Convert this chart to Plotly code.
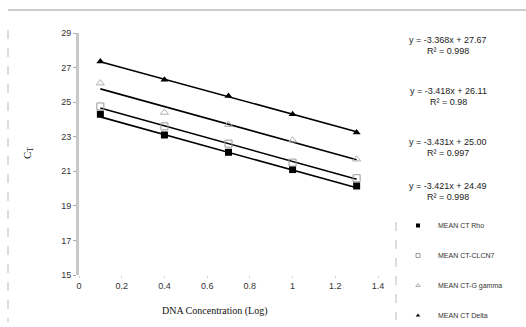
import plotly.graph_objects as go

# ---- data ----
x_vals = [0.1, 0.4, 0.7, 1.0, 1.3]
rho = [24.3, 23.1, 22.1, 21.1, 20.15]
clcn7 = [24.75, 23.6, 22.6, 21.5, 20.6]
ggamma = [26.1, 24.4, 23.7, 22.8, 21.7]
delta = [27.35, 26.3, 25.35, 24.3, 23.25]

series_names = ["MEAN CT Rho", "MEAN CT-CLCN7", "MEAN CT-G gamma", "MEAN CT Delta"]
slopes = [-3.421, -3.431, -3.418, -3.368]
intercepts = [24.49, 25.00, 26.11, 27.67]
r2_vals = ["0.998", "0.997", "0.98", "0.998"]
x_ticks = [0, 0.2, 0.4, 0.6, 0.8, 1, 1.2, 1.4]
x_tick_labels = ["0", "0.2", "0.4", "0.6", "0.8", "1", "1.2", "1.4"]
y_ticks = [15, 17, 19, 21, 23, 25, 27, 29]

# ---- layout geometry (pixels) ----
W, H = 526, 327
L, R, T, B = 79, 378, 33, 275
pw, ph = R - L, B - T


def px(xp):
    return (xp - L) / pw


def py(yp):
    return (B - yp) / ph


fig = go.Figure()

styles = [
    dict(symbol="square", color="black", line=dict(color="black", width=0)),
    dict(symbol="square-open", color="#9a9a9a", line=dict(color="#9a9a9a", width=1)),
    dict(symbol="triangle-up-open", color="#b0b0b0", line=dict(color="#b0b0b0", width=1)),
    dict(symbol="triangle-up", color="black", line=dict(color="black", width=0)),
]
data_series = [rho, clcn7, ggamma, delta]

# trend lines
for s, b in zip(slopes, intercepts):
    xs = [x_vals[0], x_vals[-1]]
    fig.add_trace(go.Scatter(x=xs, y=[s * v + b for v in xs], mode="lines",
                             line=dict(color="black", width=1.6), showlegend=False,
                             hoverinfo="skip"))

for i, (name, ys, st) in enumerate(zip(series_names, data_series, styles)):
    fig.add_trace(go.Scatter(x=x_vals, y=ys, mode="markers", name=name,
                             marker=dict(size=7, **st), legendgroup=f"g{i}",
                             showlegend=False))
    # legend entry with smaller symbol
    fig.add_trace(go.Scatter(x=[None], y=[None], mode="markers", name=name,
                             marker=dict(size=4, **st), legendgroup=f"g{i}",
                             showlegend=True))

# equations
eq_y = [186, 142, 91, 40]
for s, b, r2, yy in zip(slopes, intercepts, r2_vals, eq_y):
    sign = "-" if s < 0 else ""
    fig.add_annotation(xref="paper", yref="paper", x=px(448), y=py(yy),
                       xanchor="center", yanchor="middle",
                       text=f"y = {sign}{abs(s):.3f}x + {b:.2f}", showarrow=False,
                       font=dict(family="Liberation Sans", size=9, color="#222"))
    fig.add_annotation(xref="paper", yref="paper", x=px(448), y=py(yy + 11),
                       xanchor="center", yanchor="middle",
                       text=f"R² = {r2}", showarrow=False,
                       font=dict(family="Liberation Sans", size=9, color="#222"))

# axis titles
fig.add_annotation(xref="paper", yref="paper", x=px(215), y=py(311),
                   xanchor="center", yanchor="middle",
                   text="DNA Concentration (Log)", showarrow=False,
                   font=dict(family="Liberation Serif", size=10, color="#111"))
fig.add_annotation(xref="paper", yref="paper", x=px(28), y=py(153),
                   xanchor="center", yanchor="middle",
                   text="C<sub>T</sub>", showarrow=False, textangle=-90,
                   font=dict(family="Liberation Serif", size=11, color="#111"))

# scan decorations
fig.add_shape(type="line", xref="paper", yref="paper", x0=px(8), x1=px(526),
              y0=py(10), y1=py(10), line=dict(color="#999", width=1.2))
fig.add_shape(type="line", xref="paper", yref="paper", x0=px(8), x1=px(8),
              y0=py(30), y1=py(322), line=dict(color="#bbb", width=1, dash="dash"))
fig.add_shape(type="line", xref="paper", yref="paper", x0=px(396), x1=px(396),
              y0=py(222), y1=py(320), line=dict(color="#bbb", width=1, dash="dash"))

fig.update_layout(
    width=W, height=H, autosize=False,
    margin=dict(l=L, r=W - R, t=T, b=H - B, autoexpand=False),
    paper_bgcolor="white", plot_bgcolor="white",
    showlegend=True,
    legend=dict(x=px(398), y=py(211), xanchor="left", yanchor="top",
                font=dict(family="Liberation Sans", size=7, color="#333"),
                tracegroupgap=11, itemwidth=30, bgcolor="rgba(0,0,0,0)"),
    xaxis=dict(range=[0, 1.4], tickvals=x_ticks, ticktext=x_tick_labels,
               showgrid=False, zeroline=False, showline=False,
               ticks="outside", ticklen=2, tickcolor="#ccc",
               tickfont=dict(family="Liberation Sans", size=9, color="#333")),
    yaxis=dict(range=[15, 29], tickvals=y_ticks, showgrid=False, zeroline=False,
               showline=True, linecolor="#c8c8c8", linewidth=3,
               ticks="outside", ticklen=3, tickcolor="#aaa",
               tickfont=dict(family="Liberation Sans", size=9, color="#333")),
)

fig.write_html("out.html", config={"displayModeBar": False},
               post_script="document.body.style.margin='0';document.body.style.overflow='hidden';")
